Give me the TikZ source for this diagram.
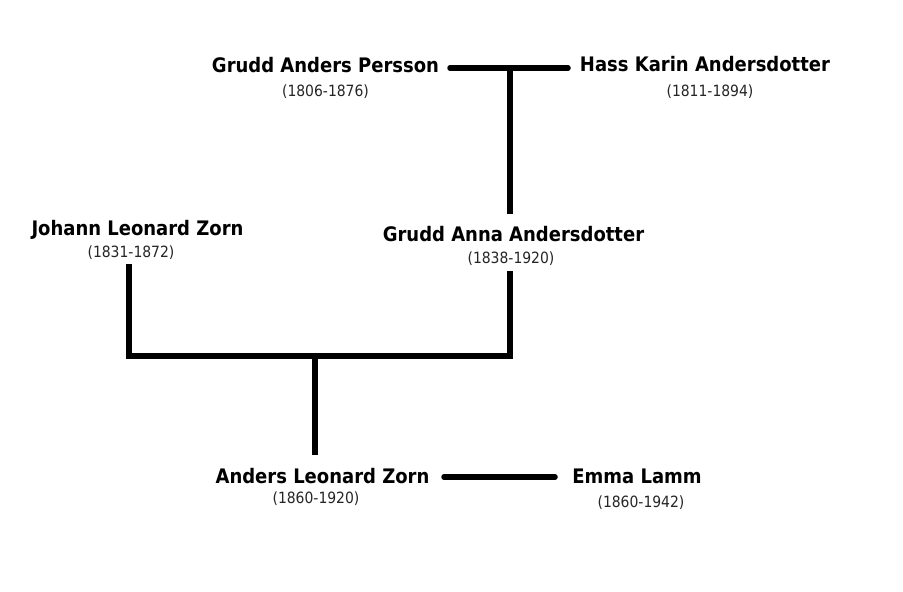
\documentclass[tikz,border=0pt]{standalone}
\usepackage{fontspec}
\setmainfont{DejaVu Sans}
\newfontfamily\namefont{DejaVu Sans Condensed}
\begin{document}
\begin{tikzpicture}[x=1pt,y=-1pt,
  person/.style={anchor=base,inner sep=0pt,font=\namefont\fontsize{20}{22}\selectfont\bfseries},
  years/.style={anchor=base,inner sep=0pt,font=\namefont\fontsize{15.5}{17}\selectfont,text=black!85},
  link/.style={line width=5.5pt,line cap=round},
  tree/.style={line width=5.5pt,line cap=butt,line join=miter}]
\fill[white] (0,0) rectangle (903,592);
\useasboundingbox (0,0) rectangle (903,592);
% people
\node[person] (gap) at (325.5,72) {Grudd Anders Persson};
\node[years]  (gapy) at (325.5,96) {(1806-1876)};
\node[person] (hka) at (705,71) {Hass Karin Andersdotter};
\node[years]  (hkay) at (710,96) {(1811-1894)};
\node[person] (jlz) at (137.5,235) {Johann Leonard Zorn};
\node[years]  (jlzy) at (131,257) {(1831-1872)};
\node[person] (gaa) at (513.5,241) {Grudd Anna Andersdotter};
\node[years]  (gaay) at (511,263) {(1838-1920)};
\node[person] (alz) at (322.5,483) {Anders Leonard Zorn};
\node[years]  (alzy) at (316,503) {(1860-1920)};
\node[person] (el) at (637,483) {Emma Lamm};
\node[years]  (ely) at (641,507) {(1860-1942)};
% connector points
\coordinate (m1a) at (450,68);
\coordinate (m1b) at (568,68);
\coordinate (m1c) at (510,68);
\coordinate (c1) at (510,214);
\coordinate (p1) at (129,264);
\coordinate (p2) at (510,271);
\coordinate (pj) at (315,356);
\coordinate (c2) at (315,455);
\coordinate (m2a) at (444,477);
\coordinate (m2b) at (555,477);
% connectors
\draw[link] (m1a) -- (m1b);
\draw[tree] (m1c) -- (c1);
\draw[tree] (p1) |- (pj) -| (p2);
\draw[tree] (pj) -- (c2);
\draw[link] (m2a) -- (m2b);
\end{tikzpicture}
\end{document}
